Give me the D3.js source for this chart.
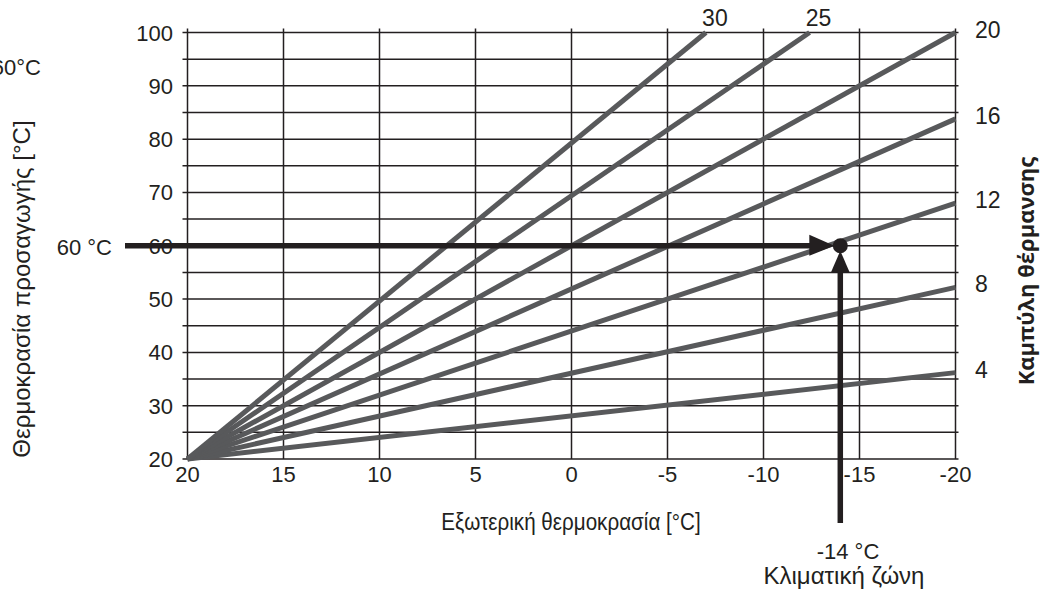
<!DOCTYPE html>
<html><head><meta charset="utf-8">
<script src="https://cdn.jsdelivr.net/npm/d3@7"></script>
<style>
html,body{margin:0;padding:0;background:#fff;}
text{font-family:"Liberation Sans",Arial,sans-serif;fill:#231f20;}
</style></head>
<body><svg id="c" width="1050" height="591"></svg>
<script>
// Data
const curveNames = [4, 8, 12, 16, 20, 25, 30];
const curveStartX = 20, curveStartY = 20;
const curveEndX = [-20, -20, -20, -20, -20, -12.4, -7];
const curveEndY = [36.2, 52.2, 68, 83.8, 100, 100, 100];
const xTicks = [20, 15, 10, 5, 0, -5, -10, -15, -20];
const yTicks = [20, 30, 40, 50, 60, 70, 80, 90, 100];
const yGrid = [20, 25, 30, 35, 40, 45, 50, 55, 60, 65, 70, 75, 80, 85, 90, 95, 100];
const designOutdoor = -14, designFlow = 60;

const svg = d3.select("#c");
const dark = "#231f20", grey = "#58595b";
const x = d3.scaleLinear().domain([20, -20]).range([187.5, 955.5]);
const y = d3.scaleLinear().domain([20, 100]).range([459, 32.5]);

// grid
svg.append("g").selectAll("line").data(yGrid).join("line")
  .attr("x1", 182.5).attr("x2", 958.5)
  .attr("y1", d => y(d)).attr("y2", d => y(d))
  .attr("stroke", dark).attr("stroke-width", 1.5);
svg.append("g").selectAll("line").data(xTicks).join("line")
  .attr("x1", d => x(d)).attr("x2", d => x(d))
  .attr("y1", y(100) - 4).attr("y2", y(20))
  .attr("stroke", dark).attr("stroke-width", 1.5);

// tick labels
svg.append("g").selectAll("text").data(yTicks).join("text")
  .attr("x", 173).attr("y", d => y(d) + 8)
  .attr("text-anchor", "end").attr("font-size", 22).text(d => d);
svg.append("g").selectAll("text").data(xTicks).join("text")
  .attr("x", d => x(d)).attr("y", 482)
  .attr("text-anchor", "middle").attr("font-size", 22).text(d => d);

// curves
const curves = curveNames.map((n, i) => ({name: n, pts: [[curveStartX, curveStartY], [curveEndX[i], curveEndY[i]]]}));
const line = d3.line().x(d => x(d[0])).y(d => y(d[1]));
svg.append("g").selectAll("path").data(curves).join("path")
  .attr("d", d => line(d.pts)).attr("fill", "none")
  .attr("stroke", grey).attr("stroke-width", 5);

// curve labels
svg.append("g").selectAll("text").data(curves).join("text")
  .attr("x", d => d.pts[1][0] === -20 ? 975 : x(d.pts[1][0]) + 9)
  .attr("y", d => d.pts[1][0] === -20 ? y(d.pts[1][1]) + 5 : y(100) - 7)
  .attr("text-anchor", d => d.pts[1][0] === -20 ? "start" : "middle")
  .attr("font-size", 23).text(d => d.name);

// design-point arrows
const px = x(designOutdoor), py = y(designFlow);
svg.append("line").attr("x1", 125).attr("x2", px - 25).attr("y1", py).attr("y2", py)
  .attr("stroke", dark).attr("stroke-width", 5.5);
svg.append("path").attr("d", `M${px-31},${py-11}L${px-6},${py}L${px-31},${py+10}Z`).attr("fill", dark);
svg.append("line").attr("x1", px).attr("x2", px).attr("y1", 523).attr("y2", py + 24)
  .attr("stroke", dark).attr("stroke-width", 5.5);
svg.append("path").attr("d", `M${px-9.5},${py+27}L${px},${py+5}L${px+9.5},${py+27}Z`).attr("fill", dark);
svg.append("circle").attr("cx", px).attr("cy", py).attr("r", 7.5).attr("fill", dark);

// annotation texts
svg.append("text").attr("x", 112).attr("y", 255).attr("text-anchor", "end").attr("font-size", 22).text("60 °C");
svg.append("text").attr("x", 41).attr("y", 75).attr("text-anchor", "end").attr("font-size", 22).text("60°C");
svg.append("text").attr("x", 848).attr("y", 559).attr("text-anchor", "middle").attr("font-size", 22).text("-14 °C");
svg.append("text").attr("x", 844).attr("y", 584).attr("text-anchor", "middle").attr("font-size", 24).text("Κλιματική ζώνη");
svg.append("text").attr("transform", "translate(571,530) scale(0.86,1)").attr("text-anchor", "middle").attr("font-size", 24).text("Εξωτερική θερμοκρασία [°C]");
svg.append("text").attr("transform", "translate(30,289) rotate(-90)").attr("text-anchor", "middle").attr("font-size", 24).text("Θερμοκρασία προσαγωγής [°C]");
svg.append("text").attr("transform", "translate(1034,271) rotate(-90)").attr("text-anchor", "middle")
  .attr("font-size", 22).attr("font-weight", "bold").style("font-family", "'Open Sans', 'DejaVu Sans', sans-serif")
  .text("Καμπύλη θέρμανσης");
</script></body></html>
